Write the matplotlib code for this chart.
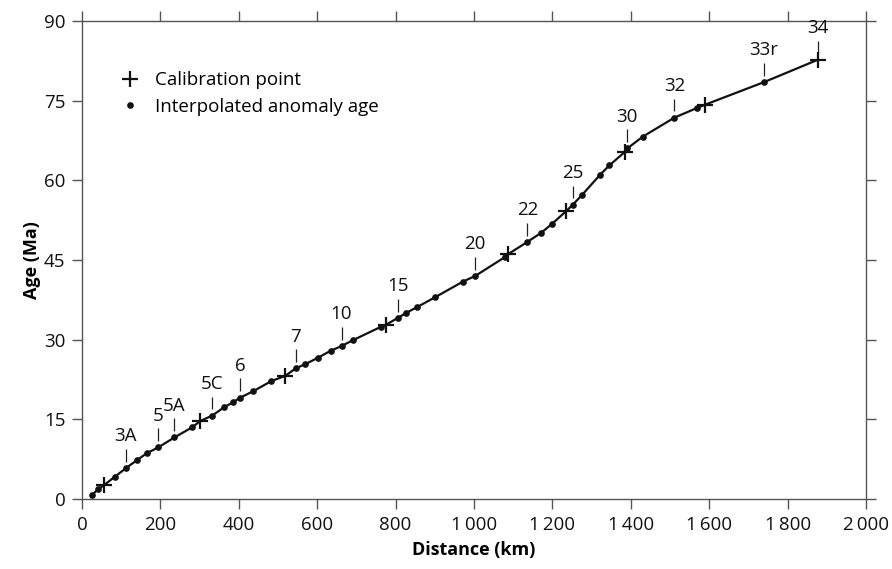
import numpy as np
import matplotlib.pyplot as plt

plt.rcParams['font.family'] = ['Open Sans', 'DejaVu Sans']

# Puntos de calibracion (distancia km, edad Ma)
cal_dist = [56, 302, 519, 775, 1087, 1235, 1384, 1588, 1877]
cal_age = [2.6, 14.7, 23.2, 32.8, 46.1, 54.2, 65.3, 74.2, 82.7]

# Edades interpoladas de anomalias
int_dist = [26, 40, 84, 112, 140, 165, 194, 236, 281, 332, 363, 385, 404,
            437, 483, 545, 570, 602, 634, 662, 691, 762, 806, 826, 854, 901,
            971, 1003, 1080, 1136, 1171, 1199, 1252, 1275, 1321, 1345, 1391,
            1430, 1511, 1568, 1740]
int_age = [0.75, 1.8, 4.2, 5.8, 7.3, 8.6, 9.7, 11.6, 13.5, 15.7, 17.3, 18.2,
           19.1, 20.3, 22.2, 24.6, 25.4, 26.6, 27.9, 28.8, 29.9, 32.4, 34.1,
           35.0, 36.1, 38.0, 40.9, 42.0, 45.6, 48.4, 50.1, 51.8, 55.4, 57.2,
           61.0, 62.8, 66.0, 68.2, 71.8, 73.6, 78.5]

# Etiquetas de anomalias
lab_text = ['3A', '5', '5A', '5C', '6', '7', '10', '15', '20', '22', '25',
            '30', '32', '33r', '34']
lab_dist = [112, 194, 236, 332, 404, 545, 662, 806, 1003, 1136, 1252, 1391,
            1511, 1740, 1877]
lab_age = [5.8, 9.7, 11.6, 15.7, 19.1, 24.6, 28.8, 34.1, 42.0, 48.4, 55.4,
           66.0, 71.8, 78.5, 82.7]

# Curva: todos los puntos ordenados por distancia
all_d = np.array(cal_dist + int_dist)
all_a = np.array(cal_age + int_age)
orden = np.argsort(all_d)

fig = plt.figure(figsize=(8.92, 5.69), dpi=100)
ax = fig.add_axes([0.0919, 0.1230, 0.879, 0.8401])

ax.plot(all_d[orden], all_a[orden], color='#111111', lw=1.6, zorder=2)
ax.plot(int_dist, int_age, 'o', color='#111111', ms=3.8, zorder=3,
        label='Interpolated anomaly age')
ax.plot(cal_dist, cal_age, '+', color='#111111', ms=12, mew=1.6, zorder=4,
        label='Calibration point')

for t, d, a in zip(lab_text, lab_dist, lab_age):
    ax.vlines(d, a + 1.2, a + 3.6, color='#222222', lw=0.9)
    ax.text(d, a + 4.3, t, ha='center', va='bottom', fontsize=13.5,
            color='#111111')

ax.set_xlim(0, 2000)
ax.set_ylim(0, 90)
ax.set_xticks(np.arange(0, 2001, 200))
ax.set_xticklabels(['0', '200', '400', '600', '800', '1\u2009000', '1\u2009200',
                    '1\u2009400', '1\u2009600', '1\u2009800', '2\u2009000'])
ax.set_yticks(np.arange(0, 91, 15))
ax.tick_params(direction='out', length=7, width=1, color='#555555',
               labelsize=13.5, labelcolor='#111111',
               top=True, right=True, pad=5)
for s in ax.spines.values():
    s.set_color('#555555')
    s.set_linewidth(1)

ax.set_xlabel('Distance (km)', fontsize=13, fontweight='bold', labelpad=5)
ax.set_ylabel('Age (Ma)', fontsize=13, fontweight='bold', labelpad=2)

h, l = ax.get_legend_handles_labels()
ax.legend(h[::-1], l[::-1], loc='upper left', bbox_to_anchor=(0.026, 0.93),
          frameon=False, fontsize=13.5, handlelength=1.2, handletextpad=0.7,
          labelspacing=0.45)

fig.savefig('out.png', dpi=100)
